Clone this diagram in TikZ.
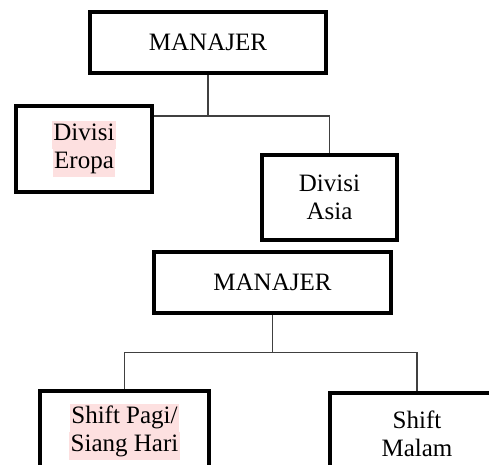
\documentclass[tikz,border=0pt]{standalone}
\usepackage{fontspec}
\setmainfont{Liberation Serif}
\usepackage{xcolor}
\usepackage{tikz}
\definecolor{hlpink}{RGB}{253,224,224}
\newcommand{\hlt}[1]{{\setlength{\fboxsep}{0pt}\colorbox{hlpink}{\kern1.5pt\strut #1\kern1.5pt}}}

\begin{document}
\begin{tikzpicture}[x=1pt, y=-1pt,
            font=\fontsize{25}{28.3}\selectfont,
            box/.style={draw, line width=3.8pt, align=center, inner sep=0pt},
            headbox/.style={box, minimum width=236.2pt, minimum height=61.2pt},
            unitbox/.style={box, minimum width=135.7pt, minimum height=85.7pt},
            link/.style={draw=black!75, line width=1.2pt}]

            \clip (0,0) rectangle (489,464);

            % first chart
            \node[headbox] (man1) at (208,42.5) {MANAJER};
            \node[unitbox] (eropa) at (84,149) {\hlt{Divisi}\\\hlt{Eropa}};
            \node[unitbox] (asia) at (329.5,197.5) {Divisi\\Asia};
            \coordinate (j1) at (0,116);
            \draw[link] (man1.south) -- (man1.south |- j1);
            \draw[link] (eropa.east |- j1) -| (asia.north);

            % second chart
            \node[headbox, minimum width=237.2pt] (man2) at (272.5,282.5) {MANAJER};
            \node[box, minimum width=169.2pt, minimum height=82.2pt] (pagi) at (124.5,432) {\hlt{Shift Pagi/}\\\hlt{Siang Hari}};
            \node[box, minimum width=174.2pt, minimum height=82.2pt] (malam) at (417,434) {Shift\\Malam};
            \coordinate (j2) at (0,352.7);
            \draw[link] (man2.south) -- (man2.south |- j2);
            \draw[link] (pagi.north) |- (malam.north |- j2) -- (malam.north);
        \end{tikzpicture}
\end{document}
